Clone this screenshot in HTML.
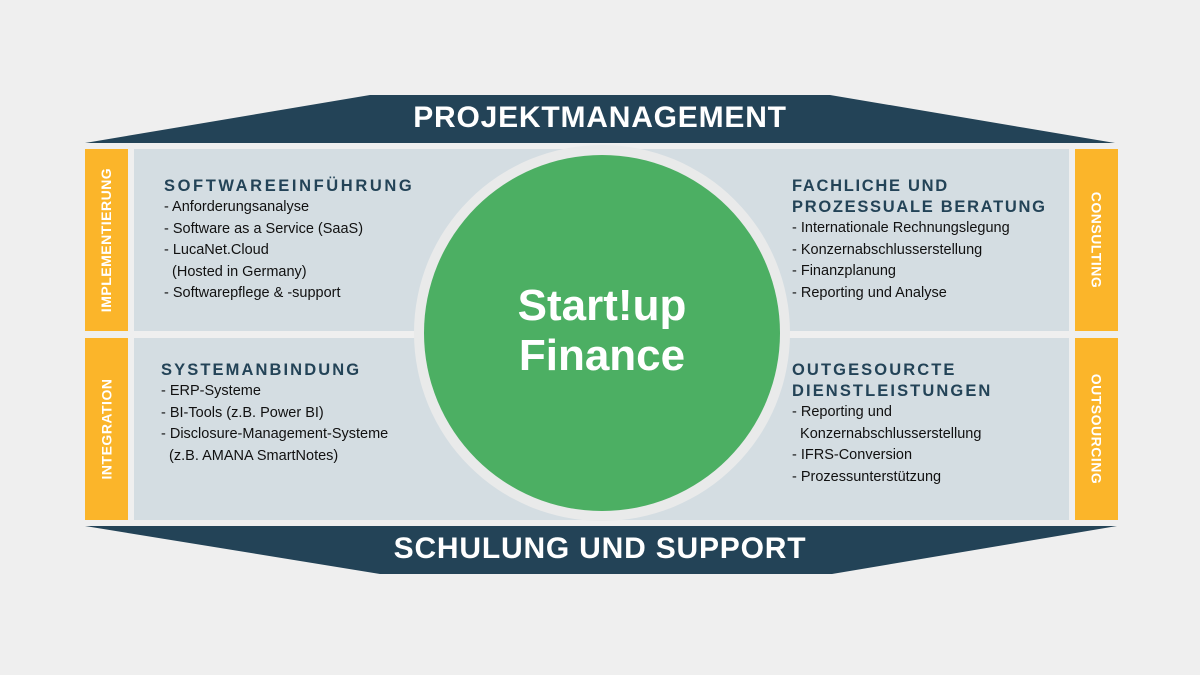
<!DOCTYPE html>
<html><head><meta charset="utf-8"><style>
body{margin:0;width:1200px;height:675px;background:#efefef;overflow:hidden;font-family:"Liberation Sans",sans-serif;position:relative}
.a{position:absolute}
.side{background:#fbb52a;color:#fff;font-size:14px;font-weight:bold;letter-spacing:0.5px;display:flex;align-items:center;justify-content:center}
.side span{white-space:nowrap}
.l span{transform:rotate(-90deg)}
.r span{transform:rotate(90deg)}
.panel{background:#d4dde2}
h3{margin:0;color:#234357;font-size:16.5px;font-weight:bold;letter-spacing:2.1px;line-height:21px}
.t{font-size:14.5px;color:#111;line-height:21.5px;white-space:nowrap}
</style></head><body>
<svg class="a" style="left:0;top:0" width="1200" height="675">
<polygon points="85,143 1115,143 830,95 370,95" fill="#234357"/>
<polygon points="85,526 1117,526 832,574 380,574" fill="#234357"/>
</svg>
<div class="a" style="left:0;width:1200px;top:101px;text-align:center;color:#fff;font-size:30px;font-weight:bold;letter-spacing:0.8px">PROJEKTMANAGEMENT</div>
<div class="a" style="left:0;width:1200px;top:532px;text-align:center;color:#fff;font-size:30px;font-weight:bold;letter-spacing:0.8px">SCHULUNG UND SUPPORT</div>
<div class="a side l" style="left:85px;top:149px;width:43px;height:182px"><span>IMPLEMENTIERUNG</span></div>
<div class="a side l" style="left:85px;top:338px;width:43px;height:182px"><span>INTEGRATION</span></div>
<div class="a side r" style="left:1075px;top:149px;width:43px;height:182px"><span>CONSULTING</span></div>
<div class="a side r" style="left:1075px;top:338px;width:43px;height:182px"><span>OUTSOURCING</span></div>
<div class="a panel" style="left:134px;top:149px;width:935px;height:182px"></div>
<div class="a panel" style="left:134px;top:338px;width:935px;height:182px"></div>
<div class="a" style="left:414px;top:145px;width:376px;height:376px;border-radius:50%;background:#e9eaea"></div>
<div class="a" style="left:424px;top:155px;width:356px;height:356px;border-radius:50%;background:#4caf63;color:#fff;font-size:44px;font-weight:bold;text-align:center;line-height:50px;display:flex;align-items:center;justify-content:center"><div style="margin-top:-4px">Start!up<br>Finance</div></div>
<div class="a" style="left:164px;top:176px"><h3 style="letter-spacing:2.6px">SOFTWAREEINFÜHRUNG</h3><div class="t">- Anforderungsanalyse<br>- Software as a Service (SaaS)<br>- LucaNet.Cloud<br>&nbsp;&nbsp;(Hosted in Germany)<br>- Softwarepflege &amp; -support</div></div>
<div class="a" style="left:161px;top:360px"><h3>SYSTEMANBINDUNG</h3><div class="t">- ERP-Systeme<br>- BI-Tools (z.B. Power BI)<br>- Disclosure-Management-Systeme<br>&nbsp;&nbsp;(z.B. AMANA SmartNotes)</div></div>
<div class="a" style="left:792px;top:176px"><h3 style="letter-spacing:1.7px">FACHLICHE UND<br>PROZESSUALE BERATUNG</h3><div class="t">- Internationale Rechnungslegung<br>- Konzernabschlusserstellung<br>- Finanzplanung<br>- Reporting und Analyse</div></div>
<div class="a" style="left:792px;top:360px"><h3>OUTGESOURCTE<br>DIENSTLEISTUNGEN</h3><div class="t">- Reporting und<br>&nbsp;&nbsp;Konzernabschlusserstellung<br>- IFRS-Conversion<br>- Prozessunterstützung</div></div>
</body></html>
